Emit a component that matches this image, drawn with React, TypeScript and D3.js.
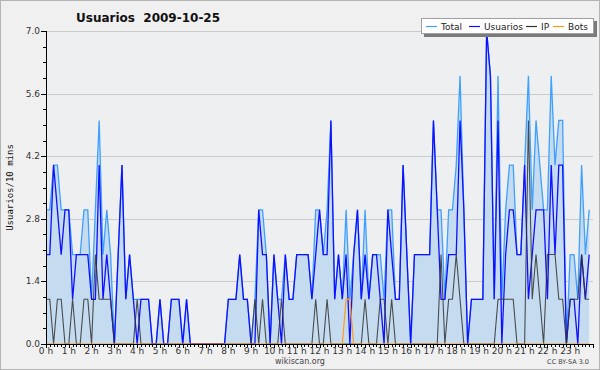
import React, { useRef, useEffect } from 'react'
import * as d3 from 'd3'

// 10-minute slots, 144 per day
const total = [
    3, 3, 4, 4, 3, 3, 3, 2, 2, 2, 3, 3, 1, 3, 5, 2, 3, 2, 0, 2,
    4, 1, 2, 1, 1, 1, 1, 1, 0, 0, 1, 0, 0, 1, 1, 1, 0, 1, 0, 0,
    0, 0, 0, 0, 0, 0, 0, 0, 1, 1, 1, 2, 1, 1, 0, 1, 3, 3, 2, 0,
    2, 1, 1, 2, 1, 1, 2, 2, 2, 2, 1, 3, 3, 2, 3, 5, 1, 2, 1, 3,
    1, 2, 3, 1, 3, 1, 2, 2, 2, 1, 3, 3, 1, 1, 4, 2, 0, 2, 2, 2,
    2, 2, 5, 3, 3, 1, 3, 3, 4, 6, 3, 0, 1, 1, 1, 1, 7, 6, 1, 6,
    1, 3, 4, 4, 2, 2, 4, 6, 3, 5, 4, 3, 3, 6, 4, 5, 5, 0, 2, 2,
    1, 4, 2, 3,
]
const usuarios = [
    2, 2, 4, 3, 2, 3, 3, 1, 2, 2, 2, 2, 1, 1, 4, 1, 2, 1, 0, 2,
    4, 1, 2, 1, 0, 1, 1, 1, 0, 0, 1, 0, 0, 1, 1, 1, 0, 1, 0, 0,
    0, 0, 0, 0, 0, 0, 0, 0, 1, 1, 1, 2, 1, 1, 0, 0, 3, 2, 2, 0,
    2, 1, 0, 2, 1, 1, 2, 2, 2, 2, 1, 2, 3, 2, 2, 5, 1, 2, 1, 2,
    0, 2, 3, 1, 2, 1, 2, 2, 1, 0, 3, 2, 1, 1, 4, 2, 0, 2, 2, 2,
    2, 2, 5, 3, 1, 1, 2, 2, 2, 5, 3, 0, 1, 1, 1, 1, 7, 6, 1, 5,
    0, 2, 3, 3, 2, 2, 4, 1, 2, 3, 3, 3, 1, 4, 2, 4, 4, 0, 1, 1,
    0, 2, 1, 2,
]
const ip = [
    1, 1, 0, 1, 1, 0, 0, 1, 0, 0, 1, 1, 0, 2, 1, 1, 1, 1, 0, 0,
    0, 0, 0, 0, 1, 0, 0, 0, 0, 0, 0, 0, 0, 0, 0, 0, 0, 0, 0, 0,
    0, 0, 0, 0, 0, 0, 0, 0, 0, 0, 0, 0, 0, 0, 0, 1, 0, 1, 0, 0,
    0, 0, 1, 0, 0, 0, 0, 0, 0, 0, 0, 1, 0, 0, 1, 0, 0, 0, 0, 0,
    0, 0, 0, 0, 1, 0, 0, 0, 1, 1, 0, 1, 0, 0, 0, 0, 0, 0, 0, 0,
    0, 0, 0, 0, 2, 0, 1, 1, 2, 1, 0, 0, 0, 0, 0, 0, 0, 0, 0, 1,
    1, 1, 1, 1, 0, 0, 0, 5, 1, 2, 1, 0, 2, 2, 2, 1, 1, 0, 1, 1,
    1, 2, 1, 1,
]
const bots = [
    0, 0, 0, 0, 0, 0, 0, 0, 0, 0, 0, 0, 0, 0, 0, 0, 0, 0, 0, 0,
    0, 0, 0, 0, 0, 0, 0, 0, 0, 0, 0, 0, 0, 0, 0, 0, 0, 0, 0, 0,
    0, 0, 0, 0, 0, 0, 0, 0, 0, 0, 0, 0, 0, 0, 0, 0, 0, 0, 0, 0,
    0, 0, 0, 0, 0, 0, 0, 0, 0, 0, 0, 0, 0, 0, 0, 0, 0, 0, 0, 1,
    1, 0, 0, 0, 0, 0, 0, 0, 0, 0, 0, 0, 0, 0, 0, 0, 0, 0, 0, 0,
    0, 0, 0, 0, 0, 0, 0, 0, 0, 0, 0, 0, 0, 0, 0, 0, 0, 0, 0, 0,
    0, 0, 0, 0, 0, 0, 0, 0, 0, 0, 0, 0, 0, 0, 0, 0, 0, 0, 0, 0,
    0, 0, 0, 0,
]

const hourLabels = [
    '0 h', '1 h', '2 h', '3 h', '4 h', '5 h', '6 h', '7 h', '8 h', '9 h', '10 h', '11 h',
    '12 h', '13 h', '14 h', '15 h', '16 h', '17 h', '18 h', '19 h', '20 h', '21 h', '22 h', '23 h',
]
const yTicks = [0, 1.4, 2.8, 4.2, 5.6, 7.0]
const seriesNames = ['Total', 'Usuarios', 'IP', 'Bots']

const W = 600
const H = 370
const FONT = '"DejaVu Sans", sans-serif'

export default function App() {
    const svgRef = useRef<SVGSVGElement>(null)

    useEffect(() => {
        if (!svgRef.current) return
        const svg = d3.select(svgRef.current)
        svg.selectAll('*').remove()

        const left = 46
        const right = 593
        const top = 31
        const bottom = 344

        const x = d3.scaleLinear().domain([0, 144]).range([left, right])
        const y = d3.scaleLinear().domain([0, 7]).range([bottom, top])

        // fondo
        svg.append('rect')
            .attr('x', 0.5).attr('y', 0.5)
            .attr('width', W - 1).attr('height', H - 1)
            .attr('fill', '#f0f0f0')
            .attr('stroke', '#b4b4b4')
        svg.append('rect')
            .attr('x', left).attr('y', top)
            .attr('width', right - left).attr('height', bottom - top)
            .attr('fill', '#eeeff1')

        // rejilla
        svg.append('g')
            .selectAll('line')
            .data(yTicks.filter((t) => t > 0))
            .enter()
            .append('line')
            .attr('x1', left).attr('x2', right)
            .attr('y1', (d) => Math.round(y(d)) + 0.5)
            .attr('y2', (d) => Math.round(y(d)) + 0.5)
            .attr('stroke', '#cbcbcb')

        // area total
        const area = d3.area<number>()
            .x((_, i) => x(i))
            .y0(y(0))
            .y1((d) => y(d))
        svg.append('path')
            .datum(total)
            .attr('d', area)
            .attr('fill', '#c5dcf0')

        const line = d3.line<number>()
            .x((_, i) => x(i))
            .y((d) => y(d))

        const colors = ['#3fa0ff', '#1010ff', '#333333', '#ff9a1a']
        const widths = [1.3, 1.3, 1.1, 1.2]
        const series = [total, usuarios, ip, bots]
        series.forEach((s, k) => {
            svg.append('path')
                .datum(s)
                .attr('d', line)
                .attr('fill', 'none')
                .attr('stroke', colors[k])
                .attr('stroke-width', widths[k])
                .attr('stroke-linejoin', 'miter')
                .attr('opacity', k === 2 ? 0.85 : 1)
        })

        // eje Y
        svg.append('line')
            .attr('x1', left + 0.5).attr('x2', left + 0.5)
            .attr('y1', top).attr('y2', bottom)
            .attr('stroke', '#000')
        const yMinor = d3.range(0, 7.01, 0.35)
        svg.append('g')
            .selectAll('line')
            .data(yMinor)
            .enter()
            .append('line')
            .attr('x1', (d, i) => (i % 4 === 0 ? left - 5 : left - 3))
            .attr('x2', left)
            .attr('y1', (d) => Math.round(y(d)) + 0.5)
            .attr('y2', (d) => Math.round(y(d)) + 0.5)
            .attr('stroke', '#000')
        svg.append('g')
            .selectAll('text')
            .data(yTicks)
            .enter()
            .append('text')
            .attr('x', left - 6)
            .attr('y', (d) => y(d) + 3)
            .attr('text-anchor', 'end')
            .style('font-family', FONT)
            .style('font-size', '9px')
            .attr('fill', '#333')
            .text((d) => d.toFixed(1))

        svg.append('text')
            .attr('transform', `translate(13,${(top + bottom) / 2}) rotate(-90)`)
            .attr('text-anchor', 'middle')
            .style('font-family', '"DejaVu Sans Mono", monospace')
            .style('font-size', '9px')
            .attr('fill', '#111')
            .text('Usuarios/10 mins')

        // eje X
        svg.append('line')
            .attr('x1', left).attr('x2', right)
            .attr('y1', bottom + 0.5).attr('y2', bottom + 0.5)
            .attr('stroke', '#000')
        svg.append('g')
            .selectAll('line')
            .data(d3.range(0, 145))
            .enter()
            .append('line')
            .attr('x1', (d) => Math.round(x(d)) + 0.5)
            .attr('x2', (d) => Math.round(x(d)) + 0.5)
            .attr('y1', bottom)
            .attr('y2', (d) => (d % 6 === 0 ? bottom + 4 : bottom + 3))
            .attr('stroke', '#000')
        svg.append('g')
            .selectAll('text')
            .data(hourLabels)
            .enter()
            .append('text')
            .attr('x', (_, i) => x(i * 6))
            .attr('y', bottom + 10)
            .attr('text-anchor', 'middle')
            .style('font-family', FONT)
            .style('font-size', '9px')
            .attr('fill', '#333')
            .text((d) => d)

        svg.append('text')
            .attr('x', 300).attr('y', 364)
            .attr('text-anchor', 'middle')
            .style('font-family', FONT)
            .style('font-size', '8px')
            .attr('fill', '#444')
            .text('wikiscan.org')
        svg.append('text')
            .attr('x', 589).attr('y', 364)
            .attr('text-anchor', 'end')
            .style('font-family', FONT)
            .style('font-size', '6.5px')
            .attr('fill', '#444')
            .text('CC BY-SA 3.0')

        // titulo
        svg.append('text')
            .attr('x', 76).attr('y', 22)
            .style('font-family', FONT)
            .style('font-size', '12px')
            .style('font-weight', 'bold')
            .style('white-space', 'pre')
            .attr('fill', '#111')
            .text('Usuarios  2009-10-25')

        // leyenda
        const lg = svg.append('g').attr('transform', 'translate(421,18)')
        lg.append('rect')
            .attr('x', 3).attr('y', 3)
            .attr('width', 173).attr('height', 16)
            .attr('fill', '#7a7a7a')
        lg.append('rect')
            .attr('x', 0.5).attr('y', 0.5)
            .attr('width', 172).attr('height', 15)
            .attr('fill', '#ffffff')
            .attr('stroke', '#a0a0a0')
        const itemX = [5, 48, 105, 132]
        seriesNames.forEach((name, k) => {
            lg.append('line')
                .attr('x1', itemX[k]).attr('x2', itemX[k] + 11)
                .attr('y1', 8.5).attr('y2', 8.5)
                .attr('stroke', colors[k])
                .attr('stroke-width', 1.2)
            lg.append('text')
                .attr('x', itemX[k] + 15)
                .attr('y', 11.5)
                .style('font-family', FONT)
                .style('font-size', '9px')
                .attr('fill', '#222')
                .text(name)
        })
    }, [])

    return (
        <div style={{ position: 'absolute', left: 0, top: 0 }}>
            <svg ref={svgRef} width={W} height={H} />
        </div>
    )
}
